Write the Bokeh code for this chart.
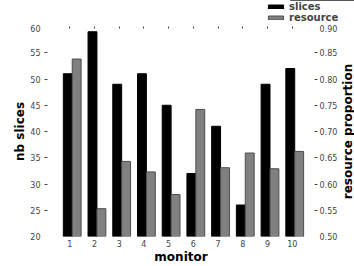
from bokeh.plotting import figure
from bokeh.layouts import column, row
from bokeh.models import (Range1d, LinearAxis, FixedTicker, NumeralTickFormatter,
                          Legend, LegendItem, ColumnDataSource)
from bokeh.transform import dodge
from bokeh.embed import file_html
from bokeh.resources import INLINE

monitor = [1, 2, 3, 4, 5, 6, 7, 8, 9, 10]
slices = [51, 59, 49, 51, 45, 32, 41, 26, 49, 52]
resource = [0.838, 0.553, 0.643, 0.623, 0.580, 0.742, 0.631, 0.659, 0.629, 0.662]
left_ticks = [20, 25, 30, 35, 40, 45, 50, 55, 60]
right_ticks = [0.50, 0.55, 0.60, 0.65, 0.70, 0.75, 0.80, 0.85, 0.90]
series_names = ["slices", "resource"]

FONT = "DejaVu Sans"
TICK_COLOR = "#444444"
BLACK_STYLE = dict(fill_color="black", line_color="black", line_width=1)
GRAY_STYLE = dict(fill_color="#808080", line_color="#4d4d4d", line_width=1)

src = ColumnDataSource(dict(monitor=monitor, slices=slices, resource=resource))

def style_axis(ax):
    ax.axis_line_color = None
    ax.major_tick_line_color = None
    ax.major_tick_out = 0
    ax.major_tick_in = 0
    ax.minor_tick_out = 3
    ax.minor_tick_in = 0
    ax.minor_tick_line_color = TICK_COLOR
    ax.major_label_text_font = FONT
    ax.major_label_text_font_size = "8px"
    ax.major_label_text_color = TICK_COLOR
    ax.axis_label_text_font = FONT
    ax.axis_label_text_font_size = "12px"
    ax.axis_label_text_font_style = "bold"
    ax.axis_label_text_color = "black"

# ---------- main chart ----------
p = figure(width=340, height=242, x_range=Range1d(0.1, 10.9), y_range=Range1d(20, 60),
           output_backend="svg", toolbar_location=None,
           min_border_left=47, min_border_right=24, min_border_top=2, min_border_bottom=27)
p.extra_y_ranges = {"res": Range1d(0.5, 0.9)}
p.outline_line_color = None
p.xgrid.visible = False
p.ygrid.visible = False
p.background_fill_color = "white"
p.border_fill_color = "white"

r1 = p.vbar(x=dodge("monitor", -0.08), top="slices", bottom=20, width=0.36, source=src,
            **BLACK_STYLE)
r2 = p.vbar(x=dodge("monitor", 0.28), top="resource", bottom=0.5, width=0.36, source=src,
            y_range_name="res", **GRAY_STYLE)

xa = p.xaxis[0]
xa.ticker = FixedTicker(ticks=monitor)
xa.axis_label = "monitor"
xa.major_label_standoff = 3
xa.axis_label_standoff = 0

ya = p.yaxis[0]
ya.ticker = FixedTicker(ticks=left_ticks, minor_ticks=left_ticks[1:-1])
ya.axis_label = "nb slices"
ya.major_label_standoff = 4
ya.axis_label_standoff = 0

ra = LinearAxis(y_range_name="res")
ra.ticker = FixedTicker(ticks=right_ticks, minor_ticks=right_ticks[1:-1])
ra.formatter = NumeralTickFormatter(format="0.00")
ra.major_label_standoff = 2
p.add_layout(ra, "right")

for ax in (xa, ya, ra):
    style_axis(ax)
xa.minor_tick_line_color = None

ta = LinearAxis()
ta.ticker = FixedTicker(ticks=[], minor_ticks=monitor)
ta.axis_line_color = None
ta.major_tick_out = 0
ta.major_tick_in = 0
ta.minor_tick_in = 2
ta.minor_tick_out = 0
ta.minor_tick_line_color = TICK_COLOR
ta.major_label_standoff = 0
p.add_layout(ta, "above")

# ---------- right strip carrying the right axis title (reads bottom to top) ----------
st = figure(width=14, height=242, x_range=Range1d(0, 1), y_range=Range1d(0.5, 0.9),
            output_backend="svg", toolbar_location=None, x_axis_type=None,
            min_border_left=0, min_border_right=0, min_border_top=2, min_border_bottom=27)
st.outline_line_color = None
st.xgrid.visible = False
st.ygrid.visible = False
st.border_fill_color = "white"
sa = st.yaxis[0]
sa.ticker = FixedTicker(ticks=[])
sa.axis_label = "resource proportion"
sa.axis_label_standoff = 0
sa.major_label_standoff = 0
style_axis(sa)
sa.minor_tick_out = 0

# ---------- legend strip on top ----------
lg = figure(width=354, height=24, x_range=Range1d(0, 1), y_range=Range1d(-2, -1),
            output_backend="svg", toolbar_location=None, x_axis_type=None, y_axis_type=None,
            min_border=0)
lg.outline_line_color = None
lg.xgrid.visible = False
lg.ygrid.visible = False
lg.border_fill_color = "white"
l1 = lg.vbar(x="monitor", top="slices", width=0.36, source=src, **BLACK_STYLE)
l2 = lg.vbar(x="monitor", top="resource", width=0.36, source=src, **GRAY_STYLE)

legend = Legend(items=[LegendItem(label=series_names[0], renderers=[l1]),
                       LegendItem(label=series_names[1], renderers=[l2])],
                location=(266, 1))
legend.background_fill_alpha = 0
legend.border_line_color = None
legend.padding = 0
legend.margin = 0
legend.spacing = 0
legend.glyph_width = 19
legend.glyph_height = 5
legend.label_height = 8
legend.label_standoff = 4
legend.label_text_font = FONT
legend.label_text_font_size = "10px"
legend.label_text_font_style = "bold"
legend.label_text_line_height = 0.8
lg.add_layout(legend)

layout = column(lg, row(p, st, spacing=0), spacing=0)
open("out.html", "w").write(file_html(layout, INLINE))
